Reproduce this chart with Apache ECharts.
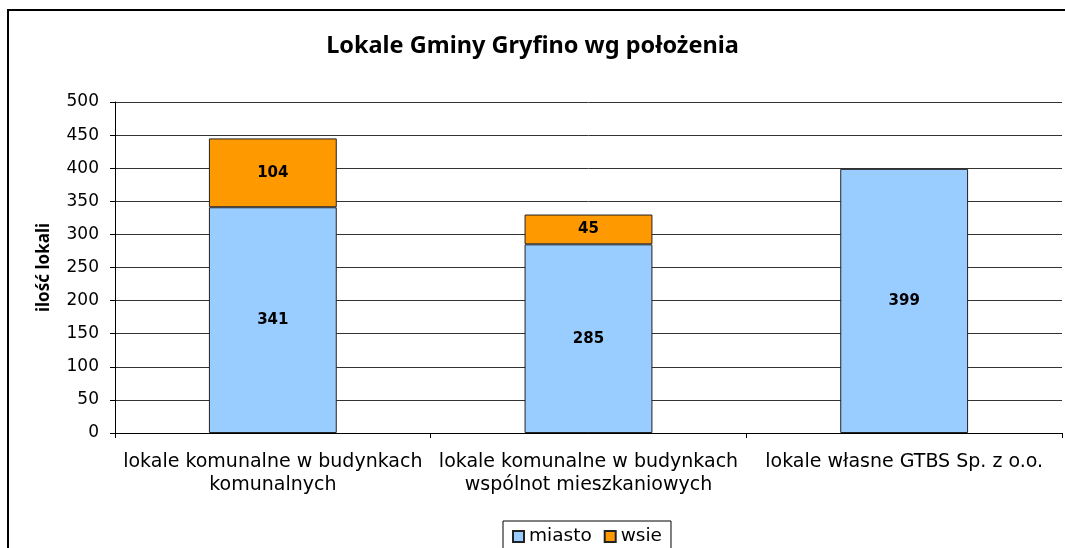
<!DOCTYPE html>
<html>
<head>
<meta charset="utf-8">
<script src="https://cdn.jsdelivr.net/npm/echarts@6/dist/echarts.min.js"></script>
<style>
  html, body { margin: 0; padding: 0; background: #fff; }
  #chart { width: 1065px; height: 548px; }
</style>
</head>
<body>
<div id="chart"></div>
<script>
// categories and values
const categories = [
  'lokale komunalne w budynkach\nkomunalnych',
  'lokale komunalne w budynkach\nwspólnot mieszkaniowych',
  'lokale własne GTBS Sp. z o.o.'
];
const miasto = [341, 285, 399];
const wsie = [104, 45, '-'];

const chart = echarts.init(document.getElementById('chart'));
const font = '"Noto Sans", "DejaVu Sans", sans-serif';
const wide = '"DejaVu Sans", sans-serif';

const option = {
  animation: false,
  textStyle: { fontFamily: wide },
  title: {
    text: 'Lokale Gminy Gryfino wg położenia',
    left: 'center',
    top: 29,
    textStyle: { fontSize: 23.5, fontWeight: 'bold', color: '#000', fontFamily: font }
  },
  // frame around the chart area, cut by the right/bottom edge like the original
  graphic: [{
    type: 'rect',
    shape: { x: 8, y: 10, width: 1200, height: 700 },
    style: { fill: 'none', stroke: '#000', lineWidth: 2 },
    silent: true
  }],
  legend: {
    data: ['miasto', 'wsie'],
    bottom: -8,
    left: 503,
    icon: 'rect',
    itemWidth: 11,
    itemHeight: 11,
    itemGap: 12,
    borderColor: '#000',
    borderWidth: 1,
    padding: [6, 9, 10, 9],
    textStyle: { fontSize: 18.5, color: '#000', fontFamily: wide }
  },
  grid: { left: 115, right: 3, top: 102, bottom: 115 },
  xAxis: {
    type: 'category',
    data: categories,
    axisLine: { lineStyle: { color: '#000', width: 1 } },
    axisTick: { show: true, length: 5, lineStyle: { color: '#000' } },
    axisLabel: { fontSize: 19, color: '#000', margin: 18, lineHeight: 23, interval: 0, fontFamily: wide }
  },
  yAxis: {
    type: 'value',
    min: 0,
    max: 500,
    interval: 50,
    name: 'ilość lokali',
    nameLocation: 'middle',
    nameGap: 62,
    nameTextStyle: { fontSize: 17, fontWeight: 'bold', color: '#000', fontFamily: font },
    axisLine: { show: true, lineStyle: { color: '#000', width: 1 } },
    axisTick: { show: true, length: 5, lineStyle: { color: '#000' } },
    axisLabel: { fontSize: 17, color: '#000', margin: 16, fontFamily: wide },
    splitLine: { lineStyle: { color: '#333', width: 1 } }
  },
  series: [
    {
      name: 'miasto',
      type: 'bar',
      stack: 'total',
      data: miasto,
      barWidth: '40.5%',
      itemStyle: { color: '#99CCFF', borderColor: '#222', borderWidth: 1 },
      label: { show: true, position: 'inside', fontSize: 15, fontWeight: 'bold', color: '#000', fontFamily: wide }
    },
    {
      name: 'wsie',
      type: 'bar',
      stack: 'total',
      data: wsie,
      barWidth: '40.5%',
      itemStyle: { color: '#FF9900', borderColor: '#222', borderWidth: 1 },
      label: { show: true, position: 'inside', fontSize: 15, fontWeight: 'bold', color: '#000', fontFamily: wide }
    }
  ]
};

chart.setOption(option);
</script>
</body>
</html>
